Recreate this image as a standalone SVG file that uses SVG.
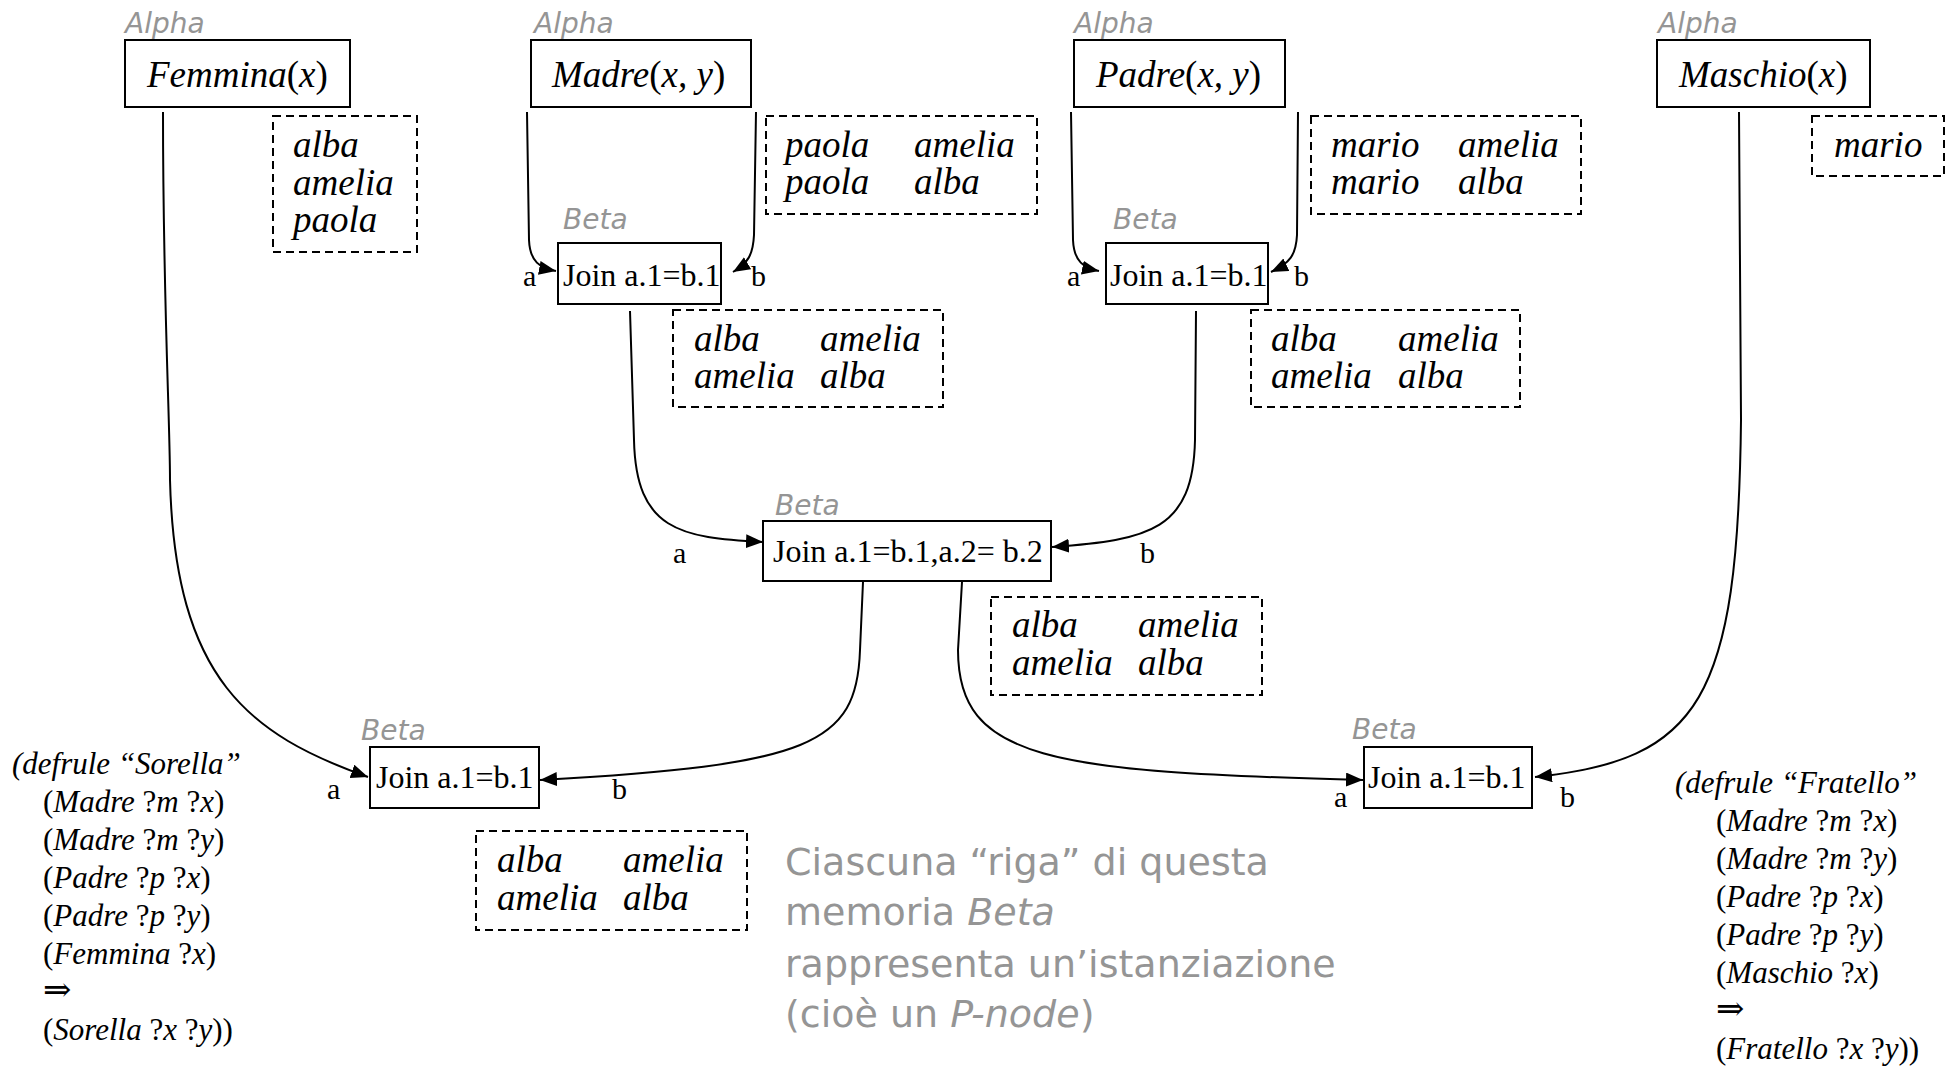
<svg xmlns="http://www.w3.org/2000/svg" width="1950" height="1072" viewBox="0 0 1950 1072">
<style>
.box{fill:#fff;stroke:#000;stroke-width:2}
.dash{fill:none;stroke:#000;stroke-width:2;stroke-dasharray:8 5}
.lbl{font-family:"DejaVu Sans",sans-serif;font-style:oblique;font-size:28px;fill:#959595}
.t{font-family:"Liberation Serif","Times New Roman",serif;fill:#000}
.i{font-style:italic}
.n{font-style:normal}
.big{font-size:37px}
.join{font-size:32px}
.port{font-size:30px}
.rule{font-size:31px}
.imp{font-family:"DejaVu Serif",serif;font-size:34px}
.note{font-family:"DejaVu Sans",sans-serif;font-size:38px;fill:#959595}
.conn{fill:none;stroke:#000;stroke-width:2;marker-end:url(#arr)}
</style>
<defs>
<marker id="arr" markerUnits="userSpaceOnUse" markerWidth="18" markerHeight="15" refX="17" refY="7" orient="auto">
<path d="M0,0 L17,7 L0,14 z" fill="#000"/>
</marker>
</defs>
<rect width="1950" height="1072" fill="#fff"/>

<g id="connectors">
<path class="conn" d="M163,112 C163,300 170,420 170,480 C175,680 250,735 368,777"/>
<path class="conn" d="M527,112 L529,240 C530,262 540,268 556,271"/>
<path class="conn" d="M756,112 L754,235 C753,255 748,263 733,272"/>
<path class="conn" d="M1071,112 L1073,240 C1074,262 1084,268 1099,271"/>
<path class="conn" d="M1298,112 L1297,235 C1296,255 1290,263 1271,272"/>
<path class="conn" d="M630,311 L634,440 C636,530 680,538 763,542"/>
<path class="conn" d="M1196,311 L1195,440 C1193,530 1150,540 1052,547"/>
<path class="conn" d="M863,582 L860,650 C857,745 810,765 540,780"/>
<path class="conn" d="M962,582 L958,650 C958,760 1050,772 1363,780"/>
<path class="conn" d="M1739,112 L1741,420 C1738,700 1700,760 1535,777"/>
</g>

<g id="alpha-femmina">
<text class="lbl" x="125" y="33">Alpha</text>
<rect class="box" x="125" y="40" width="225" height="67"/>
<text class="t big i" x="147" y="87">Femmina<tspan class="n">(</tspan>x<tspan class="n">)</tspan></text>
<rect class="dash" x="273" y="116" width="144" height="136"/>
<text class="t big i" x="293" y="157">alba</text>
<text class="t big i" x="293" y="195">amelia</text>
<text class="t big i" x="293" y="232">paola</text>
</g>

<g id="alpha-madre">
<text class="lbl" x="534" y="33">Alpha</text>
<rect class="box" x="531" y="40" width="220" height="67"/>
<text class="t big i" x="552" y="87">Madre<tspan class="n">(</tspan>x, y<tspan class="n">)</tspan></text>
<rect class="dash" x="766" y="116" width="271" height="98"/>
<text class="t big i" x="785" y="157">paola</text>
<text class="t big i" x="914" y="157">amelia</text>
<text class="t big i" x="785" y="194">paola</text>
<text class="t big i" x="914" y="194">alba</text>
</g>

<g id="alpha-padre">
<text class="lbl" x="1074" y="33">Alpha</text>
<rect class="box" x="1074" y="40" width="211" height="67"/>
<text class="t big i" x="1096" y="87">Padre<tspan class="n">(</tspan>x, y<tspan class="n">)</tspan></text>
<rect class="dash" x="1311" y="116" width="270" height="98"/>
<text class="t big i" x="1331" y="157">mario</text>
<text class="t big i" x="1458" y="157">amelia</text>
<text class="t big i" x="1331" y="194">mario</text>
<text class="t big i" x="1458" y="194">alba</text>
</g>

<g id="alpha-maschio">
<text class="lbl" x="1658" y="33">Alpha</text>
<rect class="box" x="1657" y="40" width="213" height="67"/>
<text class="t big i" x="1679" y="87">Maschio<tspan class="n">(</tspan>x<tspan class="n">)</tspan></text>
<rect class="dash" x="1812" y="116" width="132" height="60"/>
<text class="t big i" x="1834" y="157">mario</text>
</g>

<g id="beta-madre">
<text class="lbl" x="563" y="229">Beta</text>
<rect class="box" x="558" y="243" width="163" height="61"/>
<text class="t join" x="563" y="286">Join a.1=b.1</text>
<text class="t port" x="523" y="286">a</text>
<text class="t port" x="751" y="286">b</text>
<rect class="dash" x="673" y="310" width="270" height="97"/>
<text class="t big i" x="694" y="351">alba</text>
<text class="t big i" x="820" y="351">amelia</text>
<text class="t big i" x="694" y="388">amelia</text>
<text class="t big i" x="820" y="388">alba</text>
</g>

<g id="beta-padre">
<text class="lbl" x="1113" y="229">Beta</text>
<rect class="box" x="1106" y="243" width="162" height="61"/>
<text class="t join" x="1110" y="286">Join a.1=b.1</text>
<text class="t port" x="1067" y="286">a</text>
<text class="t port" x="1294" y="286">b</text>
<rect class="dash" x="1251" y="310" width="269" height="97"/>
<text class="t big i" x="1271" y="351">alba</text>
<text class="t big i" x="1398" y="351">amelia</text>
<text class="t big i" x="1271" y="388">amelia</text>
<text class="t big i" x="1398" y="388">alba</text>
</g>

<g id="beta-center">
<text class="lbl" x="775" y="515">Beta</text>
<rect class="box" x="763" y="521" width="288" height="60"/>
<text class="t join" x="773" y="562">Join a.1=b.1,a.2= b.2</text>
<text class="t port" x="673" y="563">a</text>
<text class="t port" x="1140" y="563">b</text>
<rect class="dash" x="991" y="597" width="271" height="98"/>
<text class="t big i" x="1012" y="637">alba</text>
<text class="t big i" x="1138" y="637">amelia</text>
<text class="t big i" x="1012" y="675">amelia</text>
<text class="t big i" x="1138" y="675">alba</text>
</g>

<g id="beta-sorella">
<text class="lbl" x="361" y="740">Beta</text>
<rect class="box" x="370" y="747" width="169" height="61"/>
<text class="t join" x="376" y="788">Join a.1=b.1</text>
<text class="t port" x="327" y="799">a</text>
<text class="t port" x="612" y="799">b</text>
<rect class="dash" x="476" y="831" width="271" height="99"/>
<text class="t big i" x="497" y="872">alba</text>
<text class="t big i" x="623" y="872">amelia</text>
<text class="t big i" x="497" y="910">amelia</text>
<text class="t big i" x="623" y="910">alba</text>
</g>

<g id="beta-fratello">
<text class="lbl" x="1352" y="739">Beta</text>
<rect class="box" x="1364" y="747" width="168" height="61"/>
<text class="t join" x="1368" y="788">Join a.1=b.1</text>
<text class="t port" x="1334" y="807">a</text>
<text class="t port" x="1560" y="807">b</text>
</g>

<g id="rule-sorella" class="t rule">
<text x="12" y="774" class="i">(defrule “Sorella”</text>
<text x="43" y="812">(<tspan class="i">Madre</tspan> ?<tspan class="i">m</tspan> ?<tspan class="i">x</tspan>)</text>
<text x="43" y="850">(<tspan class="i">Madre</tspan> ?<tspan class="i">m</tspan> ?<tspan class="i">y</tspan>)</text>
<text x="43" y="888">(<tspan class="i">Padre</tspan> ?<tspan class="i">p</tspan> ?<tspan class="i">x</tspan>)</text>
<text x="43" y="926">(<tspan class="i">Padre</tspan> ?<tspan class="i">p</tspan> ?<tspan class="i">y</tspan>)</text>
<text x="43" y="964">(<tspan class="i">Femmina</tspan> ?<tspan class="i">x</tspan>)</text>
<text x="43" y="1001" class="imp">⇒</text>
<text x="43" y="1040">(<tspan class="i">Sorella</tspan> ?<tspan class="i">x</tspan> ?<tspan class="i">y</tspan>))</text>
</g>

<g id="rule-fratello" class="t rule">
<text x="1675" y="793" class="i">(defrule “Fratello”</text>
<text x="1716" y="831">(<tspan class="i">Madre</tspan> ?<tspan class="i">m</tspan> ?<tspan class="i">x</tspan>)</text>
<text x="1716" y="869">(<tspan class="i">Madre</tspan> ?<tspan class="i">m</tspan> ?<tspan class="i">y</tspan>)</text>
<text x="1716" y="907">(<tspan class="i">Padre</tspan> ?<tspan class="i">p</tspan> ?<tspan class="i">x</tspan>)</text>
<text x="1716" y="945">(<tspan class="i">Padre</tspan> ?<tspan class="i">p</tspan> ?<tspan class="i">y</tspan>)</text>
<text x="1716" y="983">(<tspan class="i">Maschio</tspan> ?<tspan class="i">x</tspan>)</text>
<text x="1716" y="1020" class="imp">⇒</text>
<text x="1716" y="1059">(<tspan class="i">Fratello</tspan> ?<tspan class="i">x</tspan> ?<tspan class="i">y</tspan>))</text>
</g>

<g id="note" class="note">
<text x="785" y="875">Ciascuna “riga” di questa</text>
<text x="785" y="925">memoria <tspan font-style="oblique">Beta</tspan></text>
<text x="785" y="977">rappresenta un’istanziazione</text>
<text x="785" y="1027">(cioè un <tspan font-style="oblique">P-node</tspan>)</text>
</g>
</svg>
